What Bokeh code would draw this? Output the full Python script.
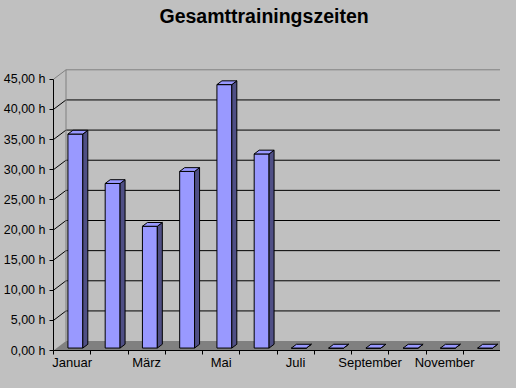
from bokeh.plotting import figure
from bokeh.models import FixedTicker, Range1d, Title, ColumnDataSource
from bokeh.embed import file_html
from bokeh.resources import INLINE

# ---- data ----
months = ["Januar", "Februar", "März", "April", "Mai", "Juni",
          "Juli", "August", "September", "Oktober", "November", "Dezember"]
hours = [35.5, 27.3, 20.2, 29.3, 43.7, 32.2, 0, 0, 0, 0, 0, 0]
y_ticks = [0, 5, 10, 15, 20, 25, 30, 35, 40, 45]
y_labels = [f"{t},00 h" for t in y_ticks]
x_label_months = months[::2]

# ---- geometry (pixels) ----
W, H = 500, 372
TITLE_STANDOFF = 9
TITLE_H = 21.8                       # measured text height of the title
BL, BB = 53, 20
BT = 2 + TITLE_H + TITLE_STANDOFF    # title panel height
PX_CAT = 37.25
PX_H = 6.07
fw = W - BL
fh = H - BB - BT
DX = 12.5 / PX_CAT          # depth offset in category units
DY = 9.5 / PX_H             # depth offset in hour units
F0 = 0.26                   # depth fraction of bar front face
FD = 0.40                   # bar depth fraction
BW = 0.40                   # bar width (category units)
NCAT = len(months)
YMAX = y_ticks[-1]

BG = "#C0C0C0"
p = figure(width=W, height=H,
           x_range=Range1d(0, fw / PX_CAT), y_range=Range1d(0, fh / PX_H),
           output_backend="svg", toolbar_location=None,
           min_border_left=BL, min_border_right=0,
           min_border_bottom=BB, min_border_top=0,
           background_fill_color=BG, border_fill_color=BG,
           outline_line_color=None)
p.xgrid.visible = False
p.ygrid.visible = False

# floor
p.patch([0, NCAT, NCAT + DX, DX], [0, 0, DY, DY],
        fill_color="#808080", line_color=None)
p.line([NCAT, NCAT + DX], [0, DY], line_color="black", line_width=1)

# back wall grid lines and left wall diagonals
gl = [t for t in y_ticks if 0 < t < YMAX]
p.segment(x0=[DX] * len(gl), y0=[t + DY for t in gl],
          x1=[NCAT + 2] * len(gl), y1=[t + DY for t in gl],
          line_color="black", line_width=1)
p.segment(x0=[0] * len(gl), y0=gl, x1=[DX] * len(gl), y1=[t + DY for t in gl],
          line_color="black", line_width=1)
# wall borders (gray)
p.segment(x0=[0, DX, DX], y0=[YMAX, YMAX + DY, DY],
          x1=[DX, NCAT + 2, DX], y1=[YMAX + DY, YMAX + DY, YMAX + DY],
          line_color="#808080", line_width=1)

# bars
left, right, bottom, top = [], [], [], []
side_xs, side_ys, top_xs, top_ys = [], [], [], []
for i, v in enumerate(hours):
    x0 = i + 0.5 - BW / 2 + F0 * DX
    x1 = i + 0.5 + BW / 2 + F0 * DX
    y0 = F0 * DY
    y1 = v + F0 * DY
    left.append(x0); right.append(x1); bottom.append(y0); top.append(y1)
    ddx, ddy = FD * DX, FD * DY
    side_xs.append([x1, x1 + ddx, x1 + ddx, x1])
    side_ys.append([y0, y0 + ddy, y1 + ddy, y1])
    top_xs.append([x0, x1, x1 + ddx, x0 + ddx])
    top_ys.append([y1, y1, y1 + ddy, y1 + ddy])

src = ColumnDataSource(dict(left=left, right=right, bottom=bottom, top=top))
p.quad(left="left", right="right", bottom="bottom", top="top", source=src,
       fill_color="#9999FF", line_color="black", line_width=1)
p.patches(side_xs, side_ys, fill_color="#4F4F85", line_color="black", line_width=1)
p.patches(top_xs, top_ys, fill_color="#9999FF", line_color="black", line_width=1)

# y axis
ya = p.yaxis[0]
ya.ticker = FixedTicker(ticks=y_ticks)
ya.major_label_overrides = {t: lab for t, lab in zip(y_ticks, y_labels)}
ya.bounds = (0, YMAX)
ya.major_tick_out = 4
ya.major_tick_in = 0
ya.minor_tick_line_color = None
ya.major_label_standoff = 4
ya.major_label_text_font = "Liberation Sans"
ya.major_label_text_font_size = "12.5px"
ya.major_label_text_color = "black"
ya.axis_line_color = "black"
ya.major_tick_line_color = "black"

# x axis
xa = p.xaxis[0]
major = [0.5 + 2 * k for k in range(len(x_label_months))]
xa.ticker = FixedTicker(ticks=major, minor_ticks=list(range(NCAT + 1)))
xa.major_label_overrides = {t: lab for t, lab in zip(major, x_label_months)}
xa.bounds = (0, NCAT)
xa.major_tick_out = 4
xa.major_tick_in = 0
xa.major_tick_line_color = None
xa.minor_tick_out = 4
xa.minor_tick_in = 0
xa.minor_tick_line_color = "black"
xa.major_label_standoff = 0
xa.major_label_text_font = "Liberation Sans"
xa.major_label_text_font_size = "13px"
xa.major_label_text_color = "black"
xa.axis_line_color = "black"

p.title = Title(text="Gesamttrainingszeiten", align="left", vertical_align="top",
                text_font="Liberation Sans", text_font_size="19.5px",
                text_font_style="bold", text_color="black",
                standoff=TITLE_STANDOFF, offset=106)

TEMPLATE = """
{% block postamble %}
<style>html, body { background: #C0C0C0; }</style>
{% endblock %}
"""

open("out.html", "w").write(file_html(p, INLINE, template=TEMPLATE))
